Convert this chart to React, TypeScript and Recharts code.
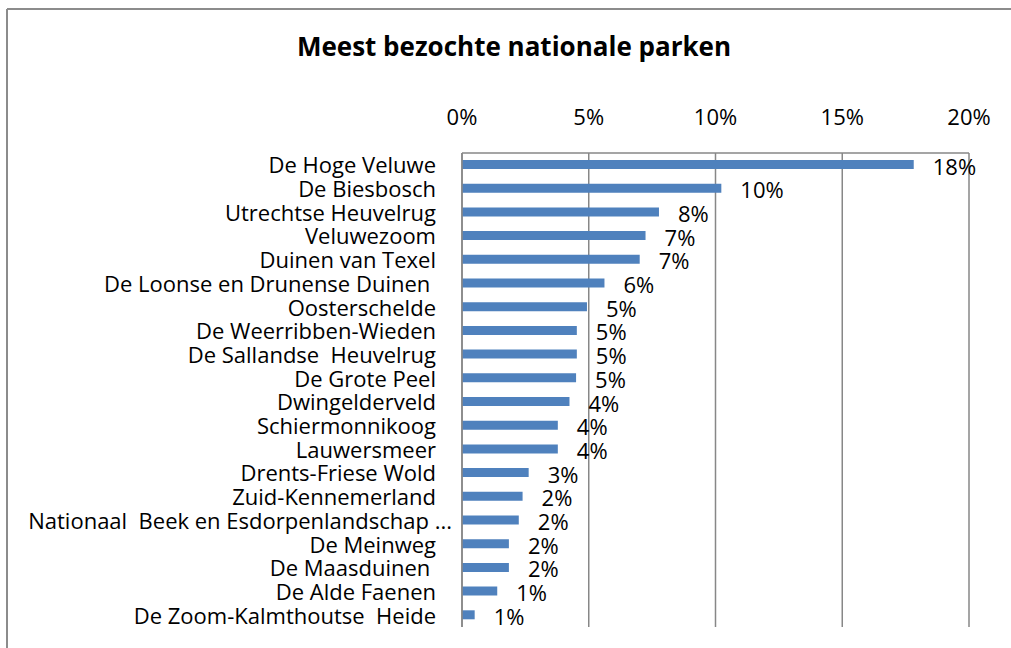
import React from "react";
import {
  BarChart,
  Bar,
  XAxis,
  YAxis,
  CartesianGrid,
  LabelList,
} from "recharts";

const parks = [
  "De Hoge Veluwe",
  "De Biesbosch",
  "Utrechtse Heuvelrug",
  "Veluwezoom",
  "Duinen van Texel",
  "De Loonse en Drunense Duinen ",
  "Oosterschelde",
  "De Weerribben-Wieden",
  "De Sallandse  Heuvelrug",
  "De Grote Peel",
  "Dwingelderveld",
  "Schiermonnikoog",
  "Lauwersmeer",
  "Drents-Friese Wold",
  "Zuid-Kennemerland",
  "Nationaal  Beek en Esdorpenlandschap ...",
  "De Meinweg",
  "De Maasduinen ",
  "De Alde Faenen",
  "De Zoom-Kalmthoutse  Heide",
];

// share of visits, in percent
const visits = [
  17.82, 10.23, 7.77, 7.24, 7.01, 5.62, 4.93, 4.53, 4.53, 4.5, 4.24, 3.78,
  3.78, 2.63, 2.39, 2.24, 1.85, 1.85, 1.39, 0.5,
];

const pctTicks = [0, 5, 10, 15, 20];

const data = parks.map((name, i) => ({ name, value: visits[i] }));

const FONT = "'Open Sans', sans-serif";
const GRID = "#878787";

function ParkTick({ x, y, payload }: any) {
  const label: string = payload.value;
  // the truncated label sticks out past the others in the original
  const dx = label.endsWith("...") ? 16 : 0;
  return (
    <text
      x={x + dx}
      y={y}
      dy={8.5}
      textAnchor="end"
      fill="#000"
      fontSize={22}
      fontFamily={FONT}
      style={{ whiteSpace: "pre" }}
    >
      {label}
    </text>
  );
}

function ValueLabel({ x, y, width, height, value }: any) {
  return (
    <text
      x={x + width + 19}
      y={y + height / 2 + 10}
      fill="#000"
      fontSize={22}
      fontFamily={FONT}
    >
      {Math.round(value)}%
    </text>
  );
}

export default function App() {
  return (
    <div
      style={{
        position: "absolute",
        left: 0,
        top: 0,
        width: 1011,
        height: 648,
        overflow: "hidden",
        background: "#fff",
      }}
    >
      {/* chart frame, only its top and left edges fall inside the picture */}
      <svg
        width={1011}
        height={648}
        style={{ position: "absolute", left: 0, top: 0 }}
      >
        <line x1={7} y1={9} x2={1011} y2={9} stroke="#8c8c8c" strokeWidth={2} />
        <line x1={7} y1={9} x2={7} y2={648} stroke="#8c8c8c" strokeWidth={2} />
      </svg>
      <div
        style={{
          position: "absolute",
          left: 514,
          top: 33,
          transform: "translateX(-50%)",
          whiteSpace: "nowrap",
          fontFamily: FONT,
          fontWeight: 700,
          fontSize: 26,
          lineHeight: "26px",
          color: "#000",
        }}
      >
        Meest bezochte nationale parken
      </div>
      <div style={{ position: "absolute", left: 0, top: 0 }}>
        <BarChart
          width={1011}
          height={648}
          data={data}
          layout="vertical"
          margin={{ top: 93, right: 42, bottom: 21, left: 22 }}
        >
          <CartesianGrid horizontal={false} stroke={GRID} strokeWidth={1.5} />
          <XAxis
            type="number"
            orientation="top"
            domain={[0, 20]}
            ticks={pctTicks}
            tickFormatter={(v) => `${v}%`}
            height={60}
            tickSize={0}
            tickMargin={28}
            axisLine={{ stroke: GRID, strokeWidth: 1.5 }}
            tick={{ fill: "#000", fontSize: 22, fontFamily: FONT }}
          />
          <YAxis
            type="category"
            dataKey="name"
            width={440}
            tickSize={0}
            tickMargin={26}
            interval={0}
            axisLine={{ stroke: GRID, strokeWidth: 1.5 }}
            tick={<ParkTick />}
          />
          <Bar dataKey="value" fill="#4f81bd" barSize={9} isAnimationActive={false}>
            <LabelList dataKey="value" content={<ValueLabel />} />
          </Bar>
        </BarChart>
      </div>
    </div>
  );
}
